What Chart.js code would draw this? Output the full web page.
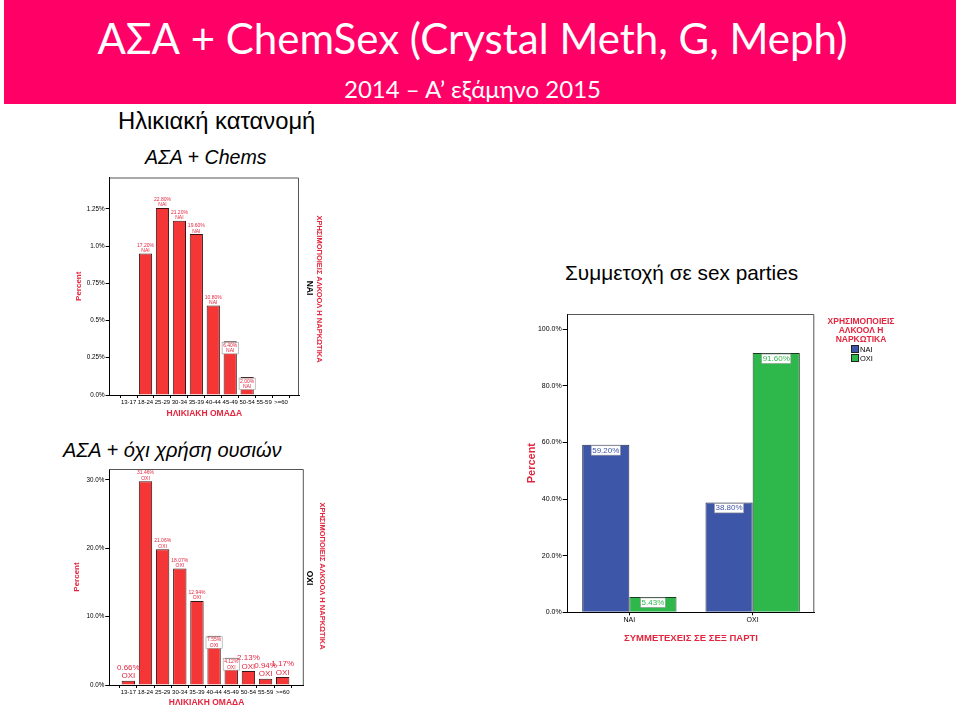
<!DOCTYPE html>
<html lang="el">
<head>
<meta charset="utf-8">
<title>ΑΣΑ + ChemSex</title>
<script src="https://cdn.jsdelivr.net/npm/chart.js@4.4.1/dist/chart.umd.min.js"></script>
<style>
    body { margin: 0; width: 960px; height: 711px; overflow: hidden; background: #fff; position: relative; font-family: "Liberation Sans", Arial, sans-serif; }
    .abs { position: absolute; white-space: nowrap; }
    .center { text-align: center; }
    .rot { transform: translate(-50%, -50%) rotate(90deg); font-weight: bold; }
    #header { left: 4px; top: 0; width: 952px; height: 104px; background: #ff0066; }
    #title { left: 0; top: 8px; width: 945px; color: #fff; font-family: Lato, sans-serif; font-size: 42px; line-height: 60px; }
    #subtitle { left: 0; top: 75px; width: 945px; color: #fff; font-family: Lato, sans-serif; font-size: 24px; line-height: 28px; }
    canvas { position: absolute; }
    #legend { left: 818px; top: 317px; width: 86px; color: #e3263f; font-size: 8.5px; font-weight: bold; line-height: 9.2px; }
    #legend .item { text-align: left; color: #000; font-weight: normal; font-size: 7.5px; line-height: 9.5px; margin-left: 33px; }
    #legend .sw { display: inline-block; width: 6px; height: 6px; border: 1px solid #222; margin-right: 1px; vertical-align: -1px; }
</style>
</head>
<body>
<div id="header" class="abs"></div>
<div id="title" class="abs center">ΑΣΑ + ChemSex (Crystal Meth, G, Meph)</div>
<div id="subtitle" class="abs center">2014 – Α’ εξάμηνο 2015</div>

<div class="abs" style="left:118px; top:107px; font-size:23.8px; line-height:28px;">Ηλικιακή κατανομή</div>
<div class="abs" style="left:145px; top:145px; font-size:19.6px; line-height:24px; font-style:italic;">ΑΣΑ + Chems</div>
<div class="abs" style="left:63px; top:437px; font-size:20px; line-height:26px; font-style:italic;">ΑΣΑ + όχι χρήση ουσιών</div>
<div class="abs" style="left:565px; top:259px; font-size:20.8px; line-height:28px;">Συμμετοχή σε sex parties</div>

<canvas id="chemsChart" width="275" height="255" style="left:40px; top:170px;"></canvas>
<canvas id="noDrugChart" width="275" height="251" style="left:40px; top:460px;"></canvas>
<canvas id="partyChart" width="440" height="350" style="left:510px; top:300px;"></canvas>

<div class="abs rot" style="left:310px; top:288px; font-size:8.5px;">ΝΑΙ</div>
<div class="abs rot" style="left:319px; top:289px; font-size:7.5px; color:#e3263f;">ΧΡΗΣΙΜΟΠΟΙΕΙΣ ΑΛΚΟΟΛ Η ΝΑΡΚΩΤΙΚΑ</div>
<div class="abs rot" style="left:310px; top:578px; font-size:8.5px;">ΟΧΙ</div>
<div class="abs rot" style="left:322px; top:576px; font-size:7.5px; color:#e3263f;">ΧΡΗΣΙΜΟΠΟΙΕΙΣ ΑΛΚΟΟΛ Η ΝΑΡΚΩΤΙΚΑ</div>

<div id="legend" class="abs center"></div>

<script>
// Age groups (x axis of both left charts)
const ageGroups = ["13-17", "18-24", "25-29", "30-34", "35-39", "40-44", "45-49", "50-54", "55-59", ">=60"];

// ΑΣΑ + Chems: bar heights as drawn, and the printed labels
const chemsPercent = [null, 0.95, 1.255, 1.17, 1.08, 0.60, 0.36, 0.12, null, null];
const chemsLabels = ["", "17.20%", "22.80%", "21.20%", "19.60%", "10.80%", "6.40%", "2.00%", "", ""];

// ΑΣΑ + no substance use
const noDrugPercent = [0.63, 29.8, 19.85, 17.05, 12.3, 7.2, 4.0, 2.05, 0.93, 1.17];
const noDrugLabels = ["0.66%", "31.46%", "21.06%", "18.07%", "12.94%", "7.55%", "4.12%", "2.13%", "0.94%", "1.17%"];

// Sex party participation, split by alcohol / drug use
const partyCategories = ["ΝΑΙ", "ΟΧΙ"];
const usersYes = [59.2, 38.8];
const usersNo = [5.43, 91.6];

const RED_TEXT = "#e3263f";
const FONT = '"Liberation Sans", Arial, sans-serif';

Chart.defaults.font.family = FONT;
Chart.defaults.color = "#000";

// Top and right border of the plot frame
const frame = {
    id: "frame",
    afterDraw(chart) {
        const { ctx, chartArea: a } = chart;
        ctx.save();
        ctx.strokeStyle = "#555";
        ctx.lineWidth = 1;
        ctx.beginPath();
        ctx.moveTo(a.left, a.top + 0.5);
        ctx.lineTo(a.right - 0.5, a.top + 0.5);
        ctx.lineTo(a.right - 0.5, a.bottom);
        ctx.stroke();
        ctx.restore();
    },
};

// SPSS style value labels on the bars
const barLabels = {
    id: "barLabels",
    afterDatasetsDraw(chart, args, opts) {
        const ctx = chart.ctx;
        ctx.save();
        chart.data.datasets.forEach((ds, di) => {
            chart.getDatasetMeta(di).data.forEach((bar, i) => {
                const text = opts.texts[di][i];
                if (!text) return;
                const lines = opts.sub ? [text, opts.sub] : [text];
                const big = (opts.big || []).includes(i);
                const boxed = opts.allBoxed || (opts.boxed || []).includes(i);
                const size = big ? opts.bigSize : opts.size;
                const lh = size * 1.05;
                ctx.font = size + "px " + FONT;
                const w = Math.max(...lines.map((l) => ctx.measureText(l).width)) + 2;
                const h = lh * lines.length + 1;
                const top = boxed ? bar.y + 1 : bar.y - h;
                if (boxed) {
                    ctx.fillStyle = "#fff";
                    ctx.fillRect(bar.x - w / 2, top, w, h);
                    ctx.strokeStyle = "#999";
                    ctx.lineWidth = 0.6;
                    ctx.strokeRect(bar.x - w / 2, top, w, h);
                }
                ctx.fillStyle = opts.color || ds.backgroundColor;
                ctx.textAlign = "center";
                ctx.textBaseline = "top";
                lines.forEach((l, k) => ctx.fillText(l, bar.x, top + 0.8 + k * lh));
            });
        });
        ctx.restore();
    },
};

function onStep(step) {
    return (scale) => {
        scale.ticks = scale.ticks.filter((t) => Math.abs(t.value / step - Math.round(t.value / step)) < 1e-6);
    };
}

function ageChart(id, values, labels, sub, o) {
    new Chart(document.getElementById(id), {
        type: "bar",
        data: {
            datasets: [
                {
                    data: values.map((v, i) => ({ x: i, y: v })),
                    backgroundColor: "#f53636",
                    borderColor: "#3a1414",
                    borderWidth: 1,
                    categoryPercentage: 1,
                    barPercentage: 0.78,
                },
            ],
        },
        options: {
            responsive: false,
            animation: false,
            devicePixelRatio: 1,
            layout: { padding: { top: o.padTop, right: o.padRight, bottom: 0, left: 0 } },
            plugins: {
                legend: { display: false },
                tooltip: { enabled: false },
                barLabels: { texts: [labels], sub: sub, size: 5, bigSize: 8, big: o.big, boxed: o.boxed, color: RED_TEXT },
            },
            scales: {
                x: {
                    type: "linear",
                    offset: false,
                    min: o.xMin,
                    max: o.xMax,
                    afterBuildTicks: (scale) => {
                        scale.ticks = scale.ticks.filter((t) => Number.isInteger(t.value) && t.value >= 0 && t.value < ageGroups.length);
                    },
                    afterFit: (scale) => { scale.height = o.xHeight; },
                    ticks: { stepSize: 1, autoSkip: false, maxRotation: 0, padding: 1, font: { size: 6 }, callback: (v) => ageGroups[v] },
                    grid: { display: true, drawOnChartArea: false, tickLength: 3, color: "#000" },
                    border: { color: "#000" },
                    title: { display: true, text: "ΗΛΙΚΙΑΚΗ ΟΜΑΔΑ", color: RED_TEXT, font: { size: 8.5, weight: "bold" }, padding: { top: 0, bottom: o.xTitlePad } },
                },
                y: {
                    min: 0,
                    max: o.yMax,
                    afterBuildTicks: onStep(o.yStep),
                    afterFit: (scale) => { scale.width = o.yWidth; },
                    ticks: { stepSize: o.yStep, padding: 1, font: { size: 6.3 }, callback: o.yFormat },
                    grid: { display: true, drawOnChartArea: false, tickLength: 4, color: "#000" },
                    border: { color: "#000" },
                    title: { display: true, text: "Percent", color: RED_TEXT, font: { size: 8, weight: "bold" }, padding: { top: o.yTitlePad, bottom: 0 } },
                },
            },
        },
        plugins: [frame, barLabels],
    });
}

ageChart("chemsChart", chemsPercent, chemsLabels, "ΝΑΙ", {
    padTop: 7.5, padRight: 16, xHeight: 30, yWidth: 69.6,
    xMin: -1.12, xMax: 10.06, yMax: 1.46, yStep: 0.25,
    yFormat: (v) => (Number.isInteger(v) ? v.toFixed(1) : String(v)) + "%",
    xTitlePad: 6.6, yTitlePad: 34,
    big: [], boxed: [6, 7],
});

ageChart("noDrugChart", noDrugPercent, noDrugLabels, "ΟΧΙ", {
    padTop: 9, padRight: 11.2, xHeight: 26, yWidth: 69.3,
    xMin: -1.11, xMax: 10.23, yMax: 31.6, yStep: 10,
    yFormat: (v) => v.toFixed(1) + "%",
    xTitlePad: 3.6, yTitlePad: 32,
    big: [0, 7, 8, 9], boxed: [5, 6],
});

const partyChart = new Chart(document.getElementById("partyChart"), {
    type: "bar",
    data: {
        labels: partyCategories,
        datasets: [
            { label: "ΝΑΙ", data: usersYes, backgroundColor: "#3e56a8", borderColor: "#1e2a44", borderWidth: 1, categoryPercentage: 0.765, barPercentage: 1 },
            { label: "ΟΧΙ", data: usersNo, backgroundColor: "#2eb74b", borderColor: "#1a3a22", borderWidth: 1, categoryPercentage: 0.765, barPercentage: 1 },
        ],
    },
    options: {
        responsive: false,
        animation: false,
        devicePixelRatio: 1,
        layout: { padding: { top: 14, right: 135.7, bottom: 0, left: 0 } },
        plugins: {
            legend: { display: false },
            tooltip: { enabled: false },
            barLabels: { texts: [usersYes.map((v) => v.toFixed(2) + "%"), usersNo.map((v) => v.toFixed(2) + "%")], size: 8, allBoxed: true },
        },
        scales: {
            x: {
                afterFit: (scale) => { scale.height = 37.7; },
                ticks: { padding: 1, font: { size: 7 } },
                grid: { display: true, drawOnChartArea: false, offset: false, tickLength: 3, color: "#000" },
                border: { color: "#000" },
                title: { display: true, text: "ΣΥΜΜΕΤΕΧΕΙΣ ΣΕ ΣΕΞ ΠΑΡΤΙ", color: RED_TEXT, font: { size: 9.5, weight: "bold" }, padding: { top: 0, bottom: 6 } },
            },
            y: {
                min: 0,
                max: 105.4,
                afterBuildTicks: onStep(20),
                afterFit: (scale) => { scale.width = 57.7; },
                ticks: { stepSize: 20, padding: 1, font: { size: 7 }, callback: (v) => v.toFixed(1) + "%" },
                grid: { display: true, drawOnChartArea: false, tickLength: 5, color: "#000" },
                border: { color: "#000" },
                title: { display: true, text: "Percent", color: RED_TEXT, font: { size: 11, weight: "bold" }, padding: { top: 15, bottom: 0 } },
            },
        },
    },
    plugins: [frame, barLabels],
});

// Legend for the party chart, built from its datasets
const legend = document.getElementById("legend");
legend.innerHTML = "ΧΡΗΣΙΜΟΠΟΙΕΙΣ<br>ΑΛΚΟΟΛ Η<br>ΝΑΡΚΩΤΙΚΑ";
partyChart.data.datasets.forEach((ds) => {
    const item = document.createElement("div");
    item.className = "item";
    item.innerHTML = '<span class="sw" style="background:' + ds.backgroundColor + '"></span>' + ds.label;
    legend.appendChild(item);
});
</script>
</body>
</html>
